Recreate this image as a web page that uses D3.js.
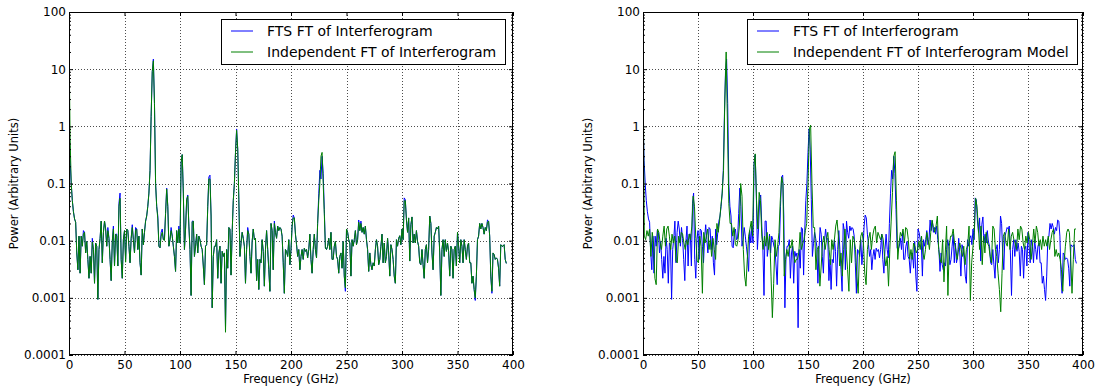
<!DOCTYPE html>
<html><head><meta charset="utf-8">
<script src="https://cdn.jsdelivr.net/npm/d3@7"></script>
<style>body{margin:0;background:#fff}svg{display:block}text{font-family:"DejaVu Sans",sans-serif}</style>
</head><body><svg id="c" width="1107" height="389"></svg>
<script>
// FTS FT of Interferogram (1 GHz spacing, starting at 0 GHz)
const ftsFreqStep = 1;
const ftsPower = [
1.5,0.25,0.1,0.05,0.032,0.024,0.021,0.0061,0.0031,0.012,
0.0027,0.012,0.008,0.015,0.014,0.0061,0.0097,0.0047,0.0022,0.0053,
0.0027,0.011,0.007,0.0018,0.0091,0.008,0.00094,0.007,0.011,0.022,
0.0041,0.014,0.022,0.016,0.008,0.017,0.011,0.0047,0.002,0.0097,
0.018,0.0036,0.013,0.013,0.0036,0.045,0.068,0.0047,0.0022,0.0104,
0.015,0.0047,0.016,0.015,0.008,0.0041,0.011,0.019,0.0104,0.0061,
0.017,0.016,0.007,0.012,0.0041,0.0025,0.016,0.0085,0.014,0.022,
0.027,0.04,0.068,0.17,1.5,9,15,2.5,0.1,0.04,
0.027,0.008,0.0075,0.014,0.016,0.0104,0.011,0.03,0.083,0.04,
0.008,0.0104,0.017,0.012,0.008,0.0053,0.0029,0.015,0.0091,0.018,
0.0091,0.23,0.32,0.068,0.007,0.016,0.052,0.063,0.018,0.007,
0.0011,0.022,0.022,0.0053,0.008,0.013,0.0061,0.012,0.0104,0.008,
0.007,0.0036,0.0017,0.008,0.0085,0.04,0.13,0.14,0.027,0.00067,
0.0053,0.008,0.008,0.0104,0.0022,0.0061,0.008,0.0018,0.0065,0.0053,
0.0061,0.0003,0.007,0.0033,0.017,0.016,0.0025,0.014,0.05,0.1,
0.35,0.9,0.4,0.052,0.0053,0.009,0.014,0.011,0.008,0.0018,
0.007,0.017,0.013,0.0053,0.0027,0.0097,0.016,0.0104,0.011,0.002,
0.0047,0.0014,0.0047,0.0041,0.0104,0.0065,0.0016,0.007,0.015,0.007,
0.0031,0.0013,0.02,0.015,0.0031,0.022,0.014,0.011,0.018,0.015,
0.017,0.016,0.012,0.0041,0.0012,0.007,0.0065,0.0053,0.0104,0.0038,
0.007,0.018,0.028,0.025,0.013,0.0085,0.0053,0.007,0.0031,0.0053,
0.007,0.0047,0.0074,0.0065,0.007,0.005,0.007,0.013,0.0047,0.0027,
0.007,0.013,0.007,0.005,0.02,0.066,0.17,0.12,0.3,0.15,
0.035,0.0074,0.007,0.008,0.011,0.007,0.014,0.0047,0.0047,0.008,
0.0097,0.0053,0.0047,0.0027,0.0053,0.0061,0.0033,0.0097,0.0024,0.0013,
0.016,0.014,0.0104,0.0091,0.0024,0.0104,0.008,0.0104,0.015,0.0085,
0.0104,0.023,0.015,0.022,0.014,0.017,0.013,0.018,0.0104,0.007,
0.0029,0.0061,0.0038,0.0031,0.0041,0.0036,0.007,0.0104,0.008,0.0038,
0.0047,0.008,0.013,0.0041,0.0091,0.0041,0.0053,0.011,0.0061,0.0024,
0.0085,0.007,0.0047,0.0024,0.0018,0.0104,0.008,0.011,0.0122,0.0085,
0.016,0.0104,0.056,0.052,0.023,0.014,0.025,0.0044,0.019,0.026,
0.0091,0.013,0.0091,0.015,0.0097,0.008,0.0041,0.0038,0.007,0.0038,
0.0022,0.007,0.0085,0.0041,0.007,0.027,0.02,0.0061,0.0031,0.012,
0.014,0.017,0.016,0.018,0.0061,0.0011,0.007,0.0104,0.0053,0.0104,
0.0065,0.0091,0.0065,0.0024,0.008,0.007,0.0022,0.007,0.008,0.0036,
0.014,0.008,0.0041,0.0104,0.008,0.0041,0.0104,0.007,0.0047,0.008,
0.0091,0.0041,0.0041,0.0018,0.0024,0.0014,0.0009,0.0024,0.0104,0.012,
0.02,0.016,0.02,0.017,0.013,0.017,0.015,0.023,0.022,0.012,
0.0024,0.0012,0.0061,0.0057,0.0047,0.005,0.0047,0.0033,0.0016,0.0085,
0.008,0.008,0.0085,0.0047,0.004];

// Independent FT of Interferogram (left panel, 1 GHz spacing)
const indepFreqStep = 1;
const indepPower = [
30,0.6,0.1,0.05,0.032,0.024,0.021,0.0061,0.0031,0.012,
0.0027,0.012,0.008,0.013,0.014,0.0061,0.0097,0.0047,0.0022,0.0053,
0.0027,0.0095,0.007,0.0018,0.0091,0.008,0.00094,0.007,0.011,0.022,
0.0041,0.014,0.022,0.016,0.008,0.015,0.011,0.0047,0.002,0.0097,
0.016,0.0036,0.013,0.012,0.0036,0.04,0.055,0.0047,0.0022,0.0104,
0.015,0.0042,0.016,0.015,0.008,0.0041,0.011,0.017,0.0104,0.0061,
0.015,0.016,0.007,0.012,0.0041,0.0025,0.016,0.0085,0.014,0.022,
0.027,0.04,0.068,0.17,1.5,9,14,2.5,0.1,0.04,
0.024,0.008,0.0075,0.012,0.014,0.0104,0.01,0.03,0.08,0.04,
0.008,0.0104,0.015,0.012,0.008,0.0053,0.0029,0.015,0.0091,0.016,
0.0091,0.23,0.32,0.068,0.007,0.016,0.052,0.06,0.018,0.007,
0.0011,0.021,0.022,0.0053,0.008,0.013,0.0061,0.012,0.0104,0.008,
0.007,0.0036,0.0017,0.008,0.0085,0.04,0.12,0.12,0.027,0.00067,
0.0053,0.008,0.008,0.0104,0.0022,0.0061,0.008,0.0018,0.0065,0.0053,
0.0061,0.00025,0.007,0.0033,0.017,0.016,0.0025,0.014,0.05,0.1,
0.35,0.85,0.4,0.052,0.0053,0.009,0.014,0.011,0.008,0.0018,
0.007,0.015,0.013,0.0053,0.0027,0.0097,0.016,0.0104,0.011,0.002,
0.0047,0.0014,0.0047,0.0041,0.0104,0.0065,0.0016,0.007,0.015,0.007,
0.0031,0.0013,0.02,0.015,0.0031,0.02,0.014,0.011,0.018,0.015,
0.017,0.016,0.012,0.0041,0.0012,0.007,0.0065,0.0053,0.0104,0.0038,
0.007,0.018,0.025,0.025,0.013,0.0085,0.0053,0.007,0.0031,0.0053,
0.007,0.0047,0.0074,0.0065,0.007,0.005,0.007,0.013,0.0047,0.0027,
0.007,0.013,0.007,0.005,0.02,0.05,0.1,0.3,0.35,0.1,
0.03,0.0074,0.007,0.008,0.011,0.007,0.014,0.0047,0.0047,0.008,
0.0097,0.0053,0.0047,0.0027,0.0053,0.0061,0.0033,0.0097,0.0024,0.0015,
0.016,0.014,0.0104,0.0091,0.0024,0.0104,0.008,0.0104,0.015,0.0085,
0.0104,0.021,0.015,0.02,0.014,0.017,0.013,0.018,0.0104,0.007,
0.0029,0.0061,0.0038,0.0031,0.0041,0.0036,0.007,0.0104,0.008,0.0038,
0.0047,0.008,0.013,0.0041,0.0091,0.0041,0.0053,0.011,0.0061,0.0024,
0.0085,0.007,0.0047,0.0024,0.0018,0.0104,0.008,0.011,0.0122,0.0085,
0.016,0.0104,0.05,0.05,0.023,0.014,0.025,0.0044,0.019,0.026,
0.0091,0.013,0.0091,0.015,0.0097,0.008,0.0041,0.0038,0.007,0.0038,
0.0022,0.007,0.0085,0.0041,0.007,0.027,0.02,0.0061,0.0031,0.012,
0.014,0.017,0.016,0.018,0.0061,0.0011,0.007,0.0104,0.0053,0.0104,
0.0065,0.0091,0.0065,0.0024,0.008,0.007,0.0022,0.007,0.008,0.0036,
0.014,0.008,0.0041,0.0104,0.008,0.0041,0.0104,0.007,0.0047,0.008,
0.0091,0.0041,0.0041,0.0018,0.0024,0.0014,0.001,0.0024,0.0104,0.012,
0.02,0.016,0.02,0.017,0.013,0.017,0.015,0.021,0.022,0.012,
0.0024,0.0013,0.0061,0.0057,0.0047,0.005,0.0047,0.0033,0.0016,0.0085,
0.008,0.008,0.0085,0.0047,0.004];

// Independent FT of Interferogram Model (right panel, 1.2 GHz spacing)
const modelFreqStep = 1.2;
const modelPower = [
20,0.012,0.0104,0.015,0.012,0.016,0.0053,0.014,0.0091,0.0022,
0.0017,0.016,0.014,0.0091,0.007,0.012,0.018,0.008,0.016,0.018,
0.012,0.007,0.013,0.0091,0.012,0.0044,0.0041,0.012,0.0091,0.014,
0.013,0.0091,0.007,0.0104,0.0085,0.013,0.0104,0.018,0.06,0.04,
0.011,0.0044,0.0041,0.012,0.008,0.0012,0.014,0.0091,0.012,0.016,
0.007,0.0104,0.0053,0.011,0.007,0.0047,0.02,0.014,0.022,0.04,
0.068,0.17,3,20,1,0.045,0.02,0.02,0.012,0.017,
0.0085,0.008,0.0104,0.018,0.1,0.06,0.007,0.0024,0.0016,0.0047,
0.012,0.016,0.022,0.012,0.2,0.33,0.05,0.016,0.07,0.05,
0.012,0.007,0.012,0.008,0.014,0.007,0.012,0.0024,0.00045,0.0018,
0.0104,0.0053,0.008,0.014,0.05,0.13,0.1,0.0024,0.0047,0.007,
0.0053,0.0085,0.0074,0.0104,0.0061,0.0041,0.0047,0.0047,0.0061,0.014,
0.007,0.009,0.0104,0.015,0.02,0.1,0.9,1.05,0.1,0.017,
0.017,0.0031,0.007,0.008,0.0016,0.0036,0.0091,0.012,0.007,0.0104,
0.014,0.007,0.0038,0.0104,0.007,0.0104,0.018,0.023,0.012,0.0036,
0.0061,0.0024,0.007,0.016,0.007,0.0031,0.0013,0.0104,0.0041,0.012,
0.0104,0.007,0.0024,0.0012,0.0061,0.012,0.014,0.0091,0.0027,0.0017,
0.007,0.011,0.014,0.007,0.012,0.016,0.018,0.0091,0.014,0.012,
0.0104,0.013,0.0104,0.0053,0.0036,0.0053,0.0016,0.007,0.022,0.07,
0.3,0.36,0.05,0.0047,0.0091,0.014,0.012,0.016,0.0091,0.017,
0.016,0.0104,0.0047,0.007,0.0047,0.0091,0.008,0.0061,0.007,0.0097,
0.007,0.012,0.0061,0.0047,0.007,0.014,0.0104,0.007,0.014,0.023,
0.017,0.014,0.018,0.027,0.007,0.0047,0.0041,0.0104,0.0019,0.0061,
0.018,0.0011,0.008,0.012,0.012,0.016,0.0091,0.007,0.0047,0.007,
0.0091,0.007,0.0053,0.008,0.0038,0.007,0.0085,0.018,0.0009,0.0041,
0.008,0.014,0.055,0.04,0.018,0.007,0.018,0.0038,0.012,0.0061,
0.014,0.0091,0.008,0.0053,0.0041,0.018,0.016,0.007,0.0053,0.0027,
0.0014,0.00057,0.0027,0.012,0.014,0.0091,0.008,0.016,0.007,0.012,
0.014,0.0104,0.0091,0.007,0.016,0.0104,0.018,0.016,0.0091,0.007,
0.012,0.0091,0.014,0.0104,0.0047,0.008,0.016,0.0091,0.018,0.014,
0.008,0.0104,0.007,0.012,0.008,0.0104,0.008,0.012,0.007,0.0104,
0.014,0.016,0.0053,0.007,0.0053,0.0061,0.0047,0.0031,0.0013,0.0041,
0.008,0.014,0.016,0.014,0.0053,0.0012,0.0047,0.016,0.016];

const xTicks = [0,50,100,150,200,250,300,350,400];
const yTicks = [1e-4,1e-3,1e-2,1e-1,1,10,100];
const yTickLabels = ["0.0001","0.001","0.01","0.1","1","10","100"];
const legendLabelsLeft = ["FTS FT of Interferogram","Independent FT of Interferogram"];
const legendLabelsRight = ["FTS FT of Interferogram","Independent FT of Interferogram Model"];
const xLabel = "Frequency (GHz)";
const yLabel = "Power (Arbitrary Units)";
const colors = ["#0000ff","#008000"];

const svg = d3.select("#c");
svg.append("rect").attr("width",1107).attr("height",389).attr("fill","#fff");

const toPts = (arr, step) => arr.map((v,i)=>[i*step, v]);

const minorVals = [];
for (let e=-4; e<2; e++) for (let k=2;k<=9;k++) minorVals.push(k*Math.pow(10,e));

function panel(cfg) {
  const top = 12, bottom = 355;
  const x = d3.scaleLinear().domain([0,400]).range([cfg.left, cfg.right]);
  const y = d3.scaleLog().domain([1e-4,100]).range([bottom, top]);
  const g = svg.append("g");
  const cid = "clip"+cfg.id;
  g.append("clipPath").attr("id",cid).append("rect")
    .attr("x",cfg.left).attr("y",top).attr("width",cfg.right-cfg.left).attr("height",bottom-top);

  // grid
  const grid = g.append("g").attr("stroke","#000").attr("stroke-width",0.7).attr("stroke-dasharray","1,2");
  xTicks.forEach(t=>grid.append("line").attr("x1",Math.round(x(t))+0.5).attr("x2",Math.round(x(t))+0.5).attr("y1",top).attr("y2",bottom));
  yTicks.forEach(t=>grid.append("line").attr("y1",Math.round(y(t))+0.5).attr("y2",Math.round(y(t))+0.5).attr("x1",cfg.left).attr("x2",cfg.right));

  // series
  const line = d3.line().x(d=>x(d[0])).y(d=>y(d[1]));
  const lg = g.append("g").attr("clip-path",`url(#${cid})`);
  cfg.series.forEach((s,i)=>{
    lg.append("path").datum(s).attr("d",line).attr("fill","none")
      .attr("stroke",colors[i]).attr("stroke-width",1).attr("stroke-linejoin","round");
  });

  // axes
  const fnt = a => a.attr("font-family","DejaVu Sans, sans-serif").attr("font-size",12).call(s=>s.select(".domain").remove());
  g.append("g").attr("transform",`translate(0,${bottom})`)
    .call(d3.axisBottom(x).tickValues(xTicks).tickFormat(d3.format("d")).tickSizeInner(-4).tickSizeOuter(0).tickPadding(5))
    .call(fnt).call(a=>a.selectAll("text").attr("fill","#000"));
  g.append("g").attr("transform",`translate(0,${top})`)
    .call(d3.axisTop(x).tickValues(xTicks).tickFormat("").tickSizeInner(-4).tickSizeOuter(0)).call(fnt);
  g.append("g").attr("transform",`translate(${cfg.left},0)`)
    .call(d3.axisLeft(y).tickValues(yTicks).tickFormat((d,i)=>yTickLabels[i]).tickSizeInner(-4).tickSizeOuter(0).tickPadding(3))
    .call(fnt).call(a=>a.selectAll("text").attr("fill","#000"));
  g.append("g").attr("transform",`translate(${cfg.left},0)`)
    .call(d3.axisLeft(y).tickValues(minorVals).tickFormat("").tickSizeInner(-2).tickSizeOuter(0)).call(fnt);
  g.append("g").attr("transform",`translate(${cfg.right},0)`)
    .call(d3.axisRight(y).tickValues(yTicks).tickFormat("").tickSizeInner(-4).tickSizeOuter(0)).call(fnt);
  g.append("g").attr("transform",`translate(${cfg.right},0)`)
    .call(d3.axisRight(y).tickValues(minorVals).tickFormat("").tickSizeInner(-2).tickSizeOuter(0)).call(fnt);

  // frame
  g.append("rect").attr("x",cfg.left+0.5).attr("y",top+0.5).attr("width",cfg.right-cfg.left-1).attr("height",bottom-top-1)
    .attr("fill","none").attr("stroke","#000").attr("stroke-width",1);

  // labels
  g.append("text").attr("x",(cfg.left+cfg.right)/2).attr("y",383).attr("text-anchor","middle")
    .attr("font-size",11.5).attr("fill","#000").text(xLabel);
  g.append("text").attr("transform",`translate(${cfg.ylabX},${(top+bottom)/2}) rotate(-90)`).attr("text-anchor","middle")
    .attr("font-size",11.5).attr("fill","#000").text(yLabel);

  // legend
  const L = cfg.legend;
  g.append("rect").attr("x",L.x+0.5).attr("y",19.5).attr("width",L.w).attr("height",45)
    .attr("fill","#fff").attr("stroke","#000").attr("stroke-width",1);
  cfg.labels.forEach((t,i)=>{
    const yy = 31 + i*21;
    g.append("line").attr("x1",L.x+10).attr("x2",L.x+32).attr("y1",yy).attr("y2",yy)
      .attr("stroke",colors[i]).attr("stroke-width",1);
    g.append("text").attr("x",L.x+46).attr("y",yy+5).attr("font-size",14).attr("fill","#000").text(t);
  });
}

panel({id:"L", left:69, right:513, ylabX:18,
  series:[toPts(ftsPower,ftsFreqStep), toPts(indepPower,indepFreqStep)],
  labels:legendLabelsLeft, legend:{x:221,w:284}});
panel({id:"R", left:643, right:1083, ylabX:592,
  series:[toPts(ftsPower,ftsFreqStep), toPts(modelPower,modelFreqStep)],
  labels:legendLabelsRight, legend:{x:747,w:330}});
</script></body></html>
